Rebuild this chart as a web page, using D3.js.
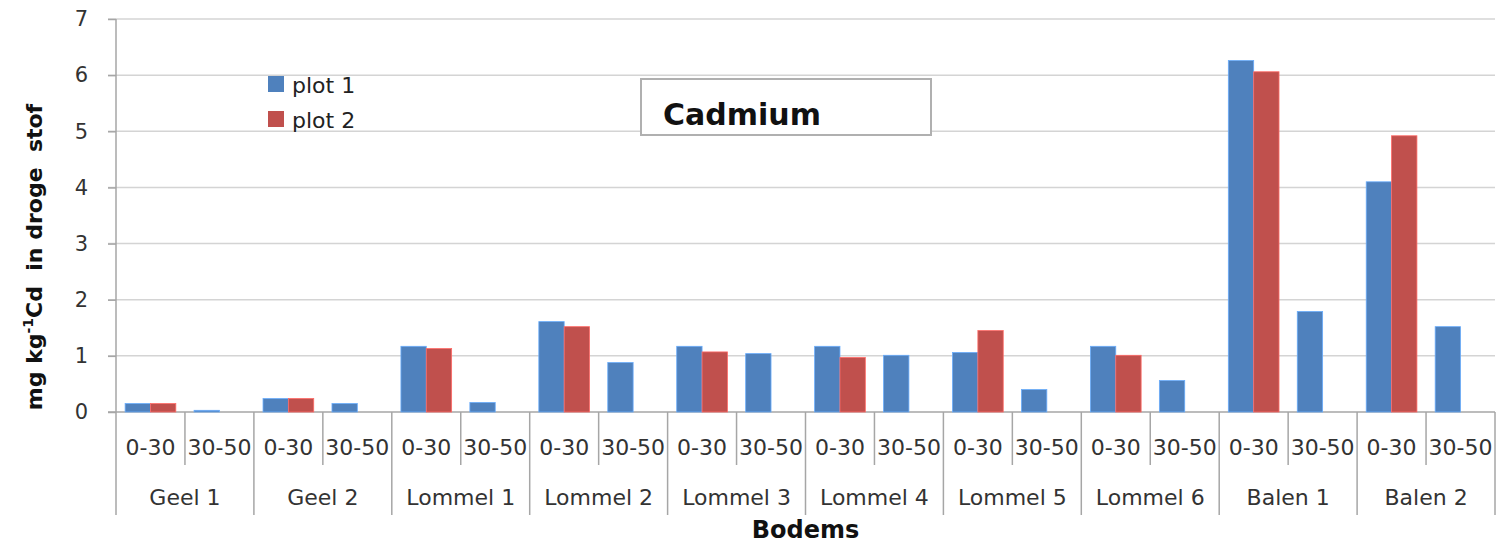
<!DOCTYPE html>
<html><head><meta charset="utf-8">
<script src="https://cdn.jsdelivr.net/npm/d3@7"></script>
<style>body{margin:0;background:#fff}svg{display:block;font-family:"DejaVu Sans",sans-serif}text{white-space:pre}</style>
</head><body><svg id="c" width="1503" height="545"></svg>
<script>
const groups = ["Geel 1","Geel 2","Lommel 1","Lommel 2","Lommel 3","Lommel 4","Lommel 5","Lommel 6","Balen 1","Balen 2"];
const depths = ["0-30","30-50"];
const seriesNames = ["plot 1","plot 2"];
// values per group: [0-30, 30-50]
const plot1 = [[0.15,0.03],[0.24,0.15],[1.17,0.17],[1.61,0.88],[1.17,1.04],[1.17,1.01],[1.06,0.40],[1.17,0.56],[6.26,1.79],[4.10,1.52]];
const plot2 = [[0.15,null],[0.24,null],[1.13,null],[1.52,null],[1.07,null],[0.97,null],[1.45,null],[1.01,null],[6.06,null],[4.92,null]];
const yTicks = [0,1,2,3,4,5,6,7];
const colors = ["#4F81BD","#C0504D"];

const svg = d3.select("#c");
const L = 116, R = 1495, T = 19, B = 412;
const cats = [];
groups.forEach(g => depths.forEach(d => cats.push(g + "|" + d)));
const x = d3.scaleBand().domain(cats).range([L, R]);
const xs = d3.scaleBand().domain(seriesNames).range([0, x.bandwidth()]).paddingInner(0).paddingOuter(0.36);
const y = d3.scaleLinear().domain([0,7]).range([B, T]);

// gridlines
svg.append("g").selectAll("line").data(yTicks.filter(t=>t>0)).join("line")
  .attr("x1", L-8).attr("x2", R).attr("y1", d=>y(d)).attr("y2", d=>y(d))
  .attr("stroke","#d4d4d4").attr("stroke-width",1.5);

// y axis
const yAxis = d3.axisLeft(y).tickValues(yTicks).tickSize(8).tickPadding(20).tickFormat(d3.format("d"));
const ya = svg.append("g").attr("transform",`translate(${L},0)`).call(yAxis);
ya.select(".domain").remove();
ya.selectAll(".tick line").attr("stroke","#a6a6a6").attr("stroke-width",1.5);
ya.selectAll(".tick text").attr("font-size",21).attr("fill","#333").attr("font-family","DejaVu Sans");
svg.append("line").attr("x1",L).attr("x2",L).attr("y1",T).attr("y2",515).attr("stroke","#a6a6a6").attr("stroke-width",1.5);
svg.append("line").attr("x1",L-8).attr("x2",R).attr("y1",B).attr("y2",B).attr("stroke","#a6a6a6").attr("stroke-width",1.5);

// bars
const barData = [];
groups.forEach((g,gi) => depths.forEach((d,di) => {
  [plot1, plot2].forEach((s,si) => {
    const v = s[gi][di];
    if (v != null) barData.push({cat: g+"|"+d, s: seriesNames[si], v, c: colors[si]});
  });
}));
svg.append("g").selectAll("rect").data(barData).join("rect")
  .attr("x", d => x(d.cat) + xs(d.s))
  .attr("width", xs.bandwidth())
  .attr("y", d => y(d.v))
  .attr("height", d => y(0) - y(d.v))
  .attr("fill", d => d.c)
  .attr("stroke", d => d3.color(d.c).brighter(0.8)).attr("stroke-width",0.8);

// x category labels
svg.append("g").selectAll("text").data(cats).join("text")
  .attr("x", d => x(d) + x.bandwidth()/2).attr("y", 455)
  .attr("text-anchor","middle").attr("font-size",22).attr("fill","#333")
  .text(d => d.split("|")[1]);
// subcategory separators
svg.append("g").selectAll("line").data(cats.filter((d,i)=>i%2===1)).join("line")
  .attr("x1", d => x(d)).attr("x2", d => x(d)).attr("y1", B).attr("y2", 465)
  .attr("stroke","#a6a6a6").attr("stroke-width",1.5);
// group separators
svg.append("g").selectAll("line").data(groups).join("line")
  .attr("x1", g => x(g+"|30-50") + x.bandwidth()).attr("x2", g => x(g+"|30-50") + x.bandwidth())
  .attr("y1", B).attr("y2", 515).attr("stroke","#a6a6a6").attr("stroke-width",1.5);
// group labels
svg.append("g").selectAll("text").data(groups).join("text")
  .attr("x", g => x(g+"|30-50")).attr("y", 505)
  .attr("text-anchor","middle").attr("font-size",22).attr("fill","#333").text(g => g);

// axis titles
svg.append("text").attr("x", (L+R)/2).attr("y", 538).attr("text-anchor","middle")
  .attr("font-size",24).attr("font-weight","bold").attr("fill","#111").text("Bodems");
const yt = svg.append("text").attr("transform","translate(42,257) rotate(-90)").attr("text-anchor","middle")
  .attr("font-size",22).attr("font-weight","bold").attr("fill","#111");
yt.append("tspan").text("mg kg");
yt.append("tspan").attr("dy",-9).attr("font-size",14).text("-1");
yt.append("tspan").attr("dy",9).text("Cd  in droge  stof");

// title box
svg.append("rect").attr("x",641).attr("y",79).attr("width",290).attr("height",56)
  .attr("fill","#fff").attr("stroke","#b0b0b0").attr("stroke-width",2);
svg.append("text").attr("x",663).attr("y",125).attr("font-size",30).attr("font-weight","bold").attr("fill","#111").text("Cadmium");

// legend
const lg = svg.append("g").selectAll("g").data(seriesNames).join("g")
  .attr("transform",(d,i)=>`translate(268,${76+i*35})`);
lg.append("rect").attr("width",16).attr("height",16).attr("fill",(d,i)=>colors[i]);
lg.append("text").attr("x",24).attr("y",17).attr("font-size",22).attr("fill","#222").text(d=>d);
</script></body></html>
